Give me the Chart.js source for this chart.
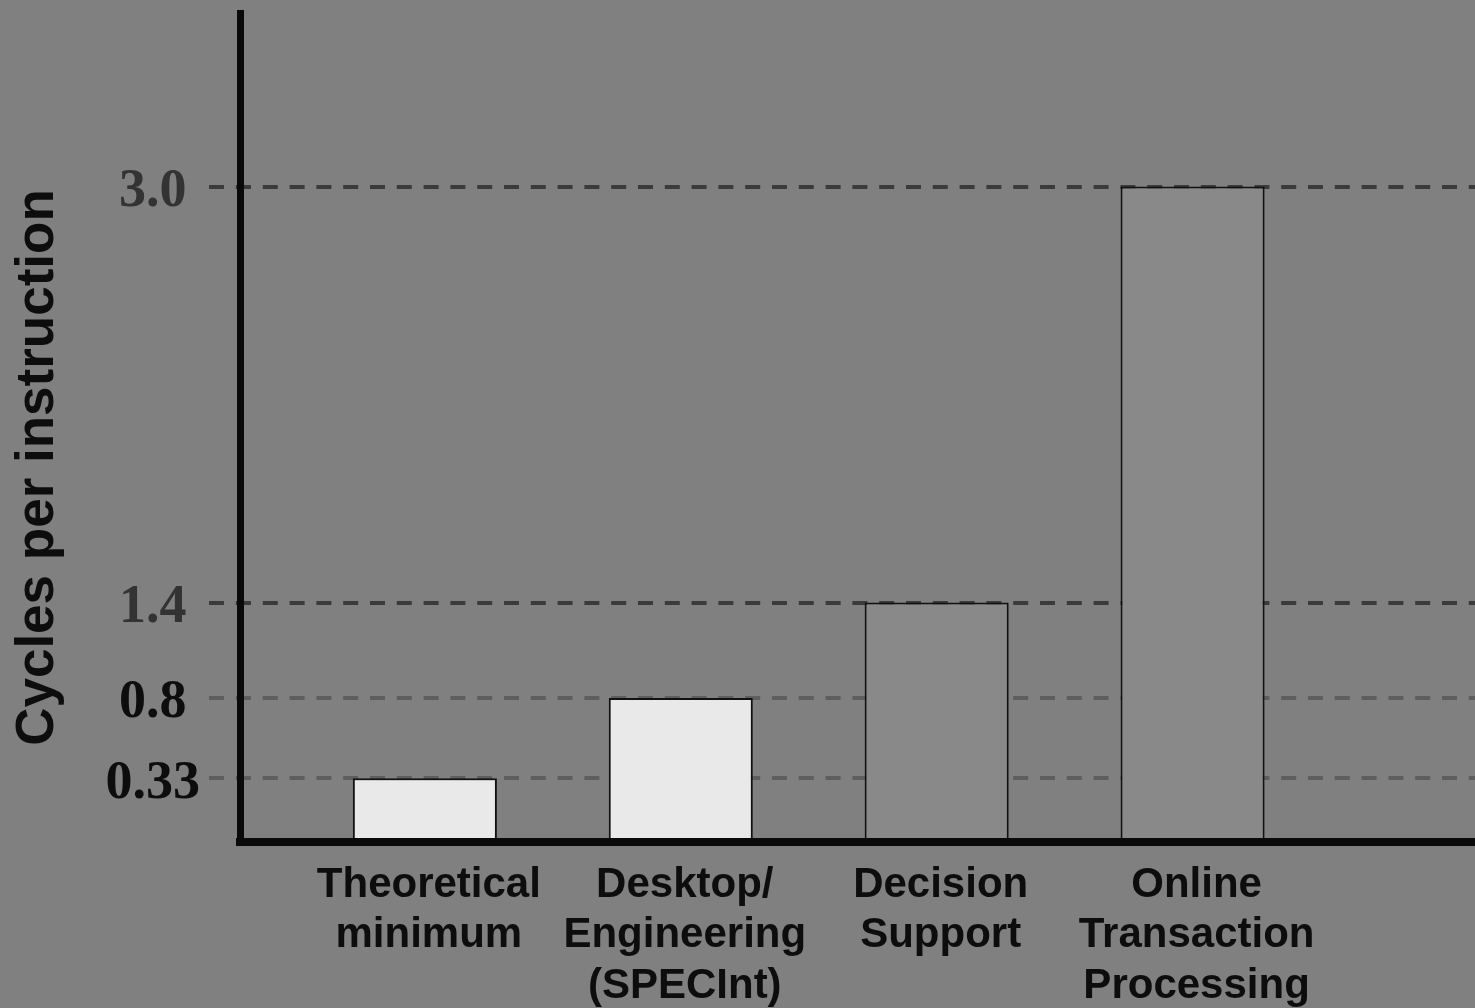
<!DOCTYPE html>
<html>
<head>
<meta charset="utf-8">
<title>Cycles per instruction by workload</title>
<script src="https://cdn.jsdelivr.net/npm/chart.js@4.4.1/dist/chart.umd.min.js"></script>
<style>
  html, body { margin: 0; padding: 0; background: #808080; }
  #wrap { position: relative; width: 1475px; height: 1008px; }
</style>
</head>
<body>
<div id="wrap"><canvas id="cpi"></canvas></div>
<script>
// Workload categories, each split into its printed lines
const categories = [
  ['Theoretical', 'minimum'],
  ['Desktop/', 'Engineering', '(SPECInt)'],
  ['Decision', 'Support'],
  ['Online', 'Transaction', 'Processing']
];

// Cycles per instruction measured for each workload
const cpiValues = [0.33, 0.8, 1.4, 3.0];

// Levels marked on the value axis and how they are printed
const levelTicks = [0.33, 0.8, 1.4, 3.0];
const levelLabels = ['0.33', '0.8', '1.4', '3.0'];

const valueTitle = 'Cycles per instruction';

// Value axis that is stretched piecewise between the marked levels,
// so the small CPI values stay readable next to the large one.
class StretchedScale extends Chart.LinearScale {
  static id = 'stretched';
  static defaults = Chart.LinearScale.defaults;

  _toDecimal(value) {
    const s = this.options.stretch;
    if (value <= s[0][0]) return s[0][1];
    for (let i = 1; i < s.length; i++) {
      if (value <= s[i][0]) {
        const [v0, f0] = s[i - 1];
        const [v1, f1] = s[i];
        return f0 + (value - v0) / (v1 - v0) * (f1 - f0);
      }
    }
    const [v0, f0] = s[s.length - 2];
    const [v1, f1] = s[s.length - 1];
    return f0 + (value - v0) / (v1 - v0) * (f1 - f0);
  }

  getPixelForValue(value) {
    return this.getPixelForDecimal(this._toDecimal(value));
  }

  getValueForPixel(pixel) {
    const d = this.getDecimalForPixel(pixel);
    const s = this.options.stretch;
    for (let i = 1; i < s.length; i++) {
      if (d <= s[i][1] || i === s.length - 1) {
        const [v0, f0] = s[i - 1];
        const [v1, f1] = s[i];
        return v0 + (d - f0) / (f1 - f0) * (v1 - v0);
      }
    }
    return this.max;
  }

  // The axis title sits a little below the middle of the axis
  drawTitle() {
    const shift = this.options.titleShift || 0;
    this.top += shift;
    this.bottom += shift;
    super.drawTitle();
    this.top -= shift;
    this.bottom -= shift;
  }
}
Chart.register(StretchedScale);

const darkLevel = v => v >= 1.4;

new Chart(document.getElementById('cpi'), {
  type: 'bar',
  data: {
    datasets: [{
      data: cpiValues.map((v, i) => ({ x: i, y: v })),
      backgroundColor: ['#e9e9e9', '#e9e9e9', '#898989', '#898989'],
      borderColor: '#111111',
      borderWidth: 2,
      borderSkipped: false,
      categoryPercentage: 1,
      barPercentage: 0.563
    }]
  },
  options: {
    responsive: true,
    maintainAspectRatio: false,
    animation: false,
    layout: { padding: { top: 13, left: 0, right: 0, bottom: 0 } },
    plugins: {
      legend: { display: false },
      tooltip: { enabled: false }
    },
    scales: {
      x: {
        type: 'linear',
        min: -0.7224,
        max: 4.1036,
        offset: false,
        afterBuildTicks: s => { s.ticks = categories.map((c, i) => ({ value: i })); },
        afterFit: s => { s.height = 166; s.paddingLeft = 0; s.paddingRight = 0; },
        grid: { display: false, drawTicks: false, offset: false },
        border: { display: true, color: '#0a0a0a', width: 8, z: 1 },
        ticks: {
          autoSkip: false,
          maxRotation: 0,
          minRotation: 0,
          padding: 18,
          labelOffset: 4,
          color: '#0d0d0d',
          font: { family: 'Liberation Sans', weight: 'bold', size: 42, lineHeight: 1.2 },
          callback: (v, i) => categories[i]
        }
      },
      y: {
        type: 'stretched',
        min: 0,
        max: 3.667,
        stretch: [[0, 0], [0.33, 0.0768], [0.8, 0.1737], [1.4, 0.2889], [3.0, 0.7907], [3.667, 1]],
        titleShift: 40,
        afterBuildTicks: s => { s.ticks = levelTicks.map(v => ({ value: v })); },
        afterFit: s => { s.width = 240; s.paddingTop = 0; s.paddingBottom = 0; },
        grid: {
          drawTicks: true,
          tickLength: 31,
          lineWidth: 4,
          tickWidth: 4,
          color: ctx => darkLevel(ctx.tick.value) ? '#3b3b3b' : '#5e5e5e',
          tickColor: ctx => darkLevel(ctx.tick.value) ? '#3b3b3b' : '#5e5e5e',
          tickBorderDash: [15, 11.8],
          tickBorderDashOffset: 0
        },
        border: { display: true, color: '#0a0a0a', width: 7, z: 1, dash: [15, 11.8], dashOffset: 8 },
        ticks: {
          autoSkip: false,
          crossAlign: 'center',
          padding: 9,
          labelOffset: 5.5,
          color: ctx => darkLevel(ctx.tick.value) ? '#333333' : '#0d0d0d',
          font: { family: 'Liberation Serif', weight: 'bold', size: 54 },
          callback: (v, i) => levelLabels[i]
        },
        title: {
          display: true,
          text: valueTitle,
          color: '#0d0d0d',
          font: { family: 'Liberation Sans', weight: 'bold', size: 53 },
          padding: { top: 7, bottom: 0 }
        }
      }
    }
  }
});
</script>
</body>
</html>
